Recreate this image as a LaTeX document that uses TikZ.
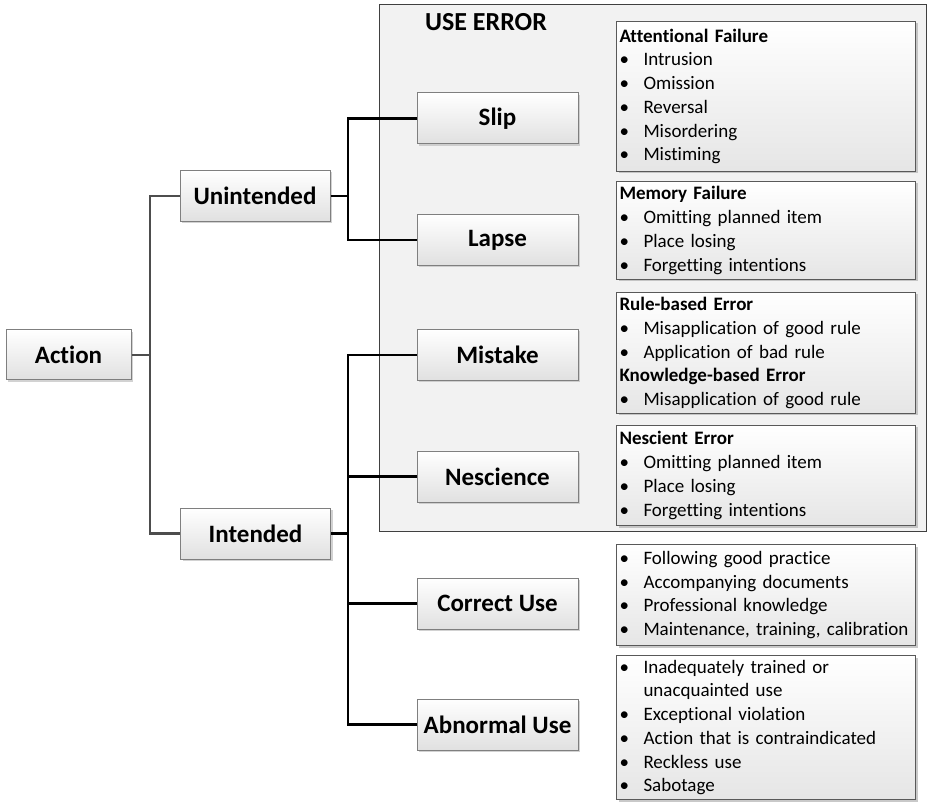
\documentclass[tikz,border=0pt]{standalone}
\usepackage{fontspec}
\setmainfont{Carlito}[Ligatures=NoCommon]
\usetikzlibrary{shadows}
\newcommand{\itm}{\makebox[24pt][l]{\textbullet}}
\definecolor{boxline}{HTML}{7F7F7F}
\definecolor{detline}{HTML}{595959}
\definecolor{useerrfill}{HTML}{F2F2F2}
\definecolor{useerrline}{HTML}{404040}
\definecolor{lconncol}{HTML}{4D4D4D}
\tikzset{
  mainbox/.style={draw=boxline, line width=1pt, top color=white, bottom color=black!12,
    minimum width=161pt, minimum height=51pt, inner sep=0pt,
    font=\fontsize{25}{29}\selectfont\bfseries,
    drop shadow={shadow xshift=2pt, shadow yshift=-2pt, fill=black!25, opacity=0.7}},
  detbox/.style={draw=detline, line width=1pt, top color=white, bottom color=black!10,
    anchor=north west, text width=293pt, align=left, inner xsep=3pt, inner ysep=0pt,
    font=\fontsize{19}{23.7}\selectfont,
    drop shadow={shadow xshift=2pt, shadow yshift=-2pt, fill=black!30, opacity=0.7}},
  lconn/.style={draw=lconncol, line width=2.6pt},
  rconn/.style={draw=black, line width=2.6pt},
}
\begin{document}
\begin{tikzpicture}[x=1pt,y=-1pt]
\useasboundingbox (0,0) rectangle (927,802);
% USE ERROR frame
\node[draw=useerrline, line width=1.2pt, fill=useerrfill, anchor=north west,
  minimum width=547pt, minimum height=527pt, inner sep=0pt] (frame) at (379,4) {};
\node[font=\fontsize{26}{30}\selectfont\bfseries] (uetitle) at (486,22) {USE ERROR};

% main boxes
\node[mainbox, minimum width=125pt, minimum height=50pt] (action) at (68.5,355) {Action};
\node[mainbox, minimum width=150pt] (unint) at (255,196) {Unintended};
\node[mainbox, minimum width=150pt] (int) at (255.5,533.5) {Intended};
\node[mainbox] (slip) at (497.5,118.5) {Slip};
\node[mainbox] (lapse) at (497.5,240) {Lapse};
\node[mainbox] (mistake) at (497.5,355) {Mistake};
\node[mainbox] (nesc) at (497.5,476.5) {Nescience};
\node[mainbox] (correct) at (497.5,603.5) {Correct Use};
\node[mainbox] (abnormal) at (497.5,724.5) {Abnormal Use};

% detail boxes
\node[detbox, minimum height=150pt] (att) at (616,21) {\textbf{Attentional Failure}\\
\itm Intrusion\\ \itm Omission\\ \itm Reversal\\ \itm Misordering\\ \itm Mistiming};
\node[detbox, minimum height=98pt] (mem) at (616,181) {\textbf{Memory Failure}\\
\itm Omitting planned item\\ \itm Place losing\\ \itm Forgetting intentions};
\node[detbox, minimum height=121pt] (rule) at (616,292) {\textbf{Rule-based Error}\\
\itm Misapplication of good rule\\ \itm Application of bad rule\\
\textbf{Knowledge-based Error}\\ \itm Misapplication of good rule};
\node[detbox, minimum height=100pt] (nescdet) at (616,425) {\textbf{Nescient Error}\\
\itm Omitting planned item\\ \itm Place losing\\ \itm Forgetting intentions};
\node[detbox, minimum height=101pt] (corrdet) at (616,544) {\itm Following good practice\\
\itm Accompanying documents\\ \itm Professional knowledge\\ \itm Maintenance, training, calibration};
\node[detbox, minimum height=144pt] (abndet) at (616,655) {\itm Inadequately trained or\\
\hspace*{24pt}unacquainted use\\ \itm Exceptional violation\\ \itm Action that is contraindicated\\
\itm Reckless use\\ \itm Sabotage};

% connectors
\coordinate (tL) at (150,355);
\coordinate (tU) at (348,196);
\coordinate (tI) at (348,533.5);
\draw[lconn] (action.east) -- (tL);
\draw[lconn] (unint.west) -| (tL) |- (int.west);
\draw[rconn] (unint.east) -- (tU);
\draw[rconn] (slip.west) -| (tU) |- (lapse.west);
\draw[rconn] (int.east) -- (tI);
\draw[rconn] (mistake.west) -| (tI) |- (abnormal.west);
\draw[rconn] (nesc.west) -- (tI |- nesc.west);
\draw[rconn] (correct.west) -- (tI |- correct.west);
\end{tikzpicture}
\end{document}
